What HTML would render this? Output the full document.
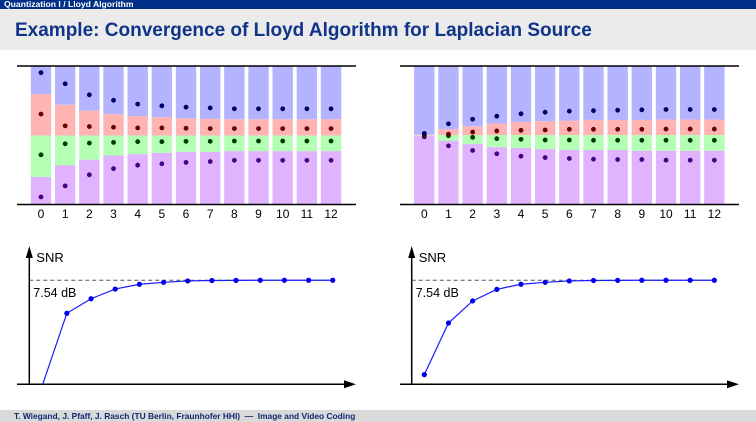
<!DOCTYPE html>
<html><head><meta charset="utf-8"><style>
body{margin:0;width:756px;height:422px;overflow:hidden;background:#fff;font-family:"Liberation Sans",sans-serif;}
#top{position:absolute;left:0;top:0;width:756px;height:9px;background:#002f87;color:#fff;font-size:8.6px;font-weight:bold;line-height:9px;padding-left:4px;box-sizing:border-box;white-space:nowrap}
#band{position:absolute;left:0;top:9px;width:756px;height:41px;background:#ebebeb}
#title{position:absolute;left:15px;top:20px;font-size:19px;font-weight:bold;color:#0f3489;white-space:nowrap}
#foot{position:absolute;left:0;top:410px;width:756px;height:12px;background:#d9d9d9;color:#0f2a70;font-size:8.4px;font-weight:bold;line-height:12px;padding-left:14px;box-sizing:border-box;white-space:nowrap}
svg{position:absolute;left:0;top:0}
</style></head><body>
<div id="top">Quantization I / Lloyd Algorithm</div>
<div id="band"></div>
<div id="title">Example: Convergence of Lloyd Algorithm for Laplacian Source</div>
<div id="foot">T. Wiegand, J. Pfaff, J. Rasch (TU Berlin, Fraunhofer HHI) &nbsp;— &nbsp;Image and Video Coding</div>
<svg id="svg" width="756" height="422"></svg>
<script>
const iterations=[0,1,2,3,4,5,6,7,8,9,10,11,12];
// Left: thresholds (lower, middle, upper) and reconstruction levels, scale -1..1
const leftT1=[-0.60,-0.43,-0.35,-0.29,-0.27,-0.25,-0.236,-0.236,-0.226,-0.226,-0.226,-0.226,-0.226];
const leftT2=[0,0,0,0,0,0,0,0,0,0,0,0,0];
const leftT3=[0.60,0.445,0.36,0.31,0.28,0.265,0.25,0.24,0.236,0.236,0.236,0.236,0.236];
const leftR1=[-0.89,-0.73,-0.57,-0.48,-0.43,-0.41,-0.39,-0.377,-0.36,-0.36,-0.36,-0.36,-0.36];
const leftR2=[-0.28,-0.12,-0.11,-0.10,-0.09,-0.09,-0.085,-0.085,-0.08,-0.08,-0.08,-0.08,-0.08];
const leftR3=[0.31,0.14,0.13,0.12,0.11,0.11,0.105,0.10,0.10,0.10,0.10,0.10,0.10];
const leftR4=[0.91,0.75,0.59,0.51,0.455,0.43,0.41,0.40,0.387,0.387,0.387,0.387,0.387];
// Right
const rightT1=[-0.002,-0.075,-0.124,-0.168,-0.182,-0.197,-0.207,-0.21,-0.21,-0.22,-0.22,-0.22,-0.22];
const rightT2=[0.004,0.007,0.007,0.007,0.007,0.007,0.007,0.007,0.007,0.007,0.007,0.007,0.007];
const rightT3=[0.012,0.09,0.134,0.173,0.197,0.207,0.216,0.226,0.226,0.226,0.231,0.231,0.231];
const rightR1=[-0.02,-0.15,-0.217,-0.265,-0.30,-0.32,-0.333,-0.343,-0.348,-0.348,-0.358,-0.358,-0.358];
const rightR2=[0.0,-0.003,-0.027,-0.046,-0.056,-0.066,-0.066,-0.07,-0.07,-0.07,-0.07,-0.07,-0.07];
const rightR3=[0.01,0.02,0.05,0.066,0.075,0.08,0.09,0.09,0.09,0.09,0.093,0.093,0.093];
const rightR4=[0.03,0.17,0.236,0.28,0.314,0.338,0.353,0.36,0.367,0.372,0.377,0.377,0.377];
// SNR in dB
const leftSNR=[0,5.15,6.2,6.9,7.25,7.39,7.49,7.52,7.53,7.54,7.54,7.54,7.54];
const rightSNR=[0.7,4.44,6.04,6.88,7.25,7.39,7.49,7.52,7.53,7.54,7.54,7.54,7.54];
const snrLimit=7.54;

const NS="http://www.w3.org/2000/svg";
const svg=document.getElementById('svg');
function mk(tag,attrs){const e=document.createElementNS(NS,tag);for(const k in attrs)e.setAttribute(k,attrs[k]);svg.appendChild(e);return e;}
const yTop=66.5,yBot=204.5;
function yV(v){return (yBot+yTop)/2-v*(yBot-yTop)/2;}

function barChart(side,x0,T1,T2,T3,R1,R2,R3,R4,lineX1,lineX2){
  const xC=i=>x0+i*24.17;
  const cols=['#e0b3ff','#b3ffb3','#ffb3b3','#b3b3ff'];
  const dcol=['#4b0082','#003a00','#660000','#000066'];
  iterations.forEach((it,i)=>{
    const b=[yBot,yV(T1[i]),yV(T2[i]),yV(T3[i]),yTop];
    for(let k=0;k<4;k++){
      const r=mk('rect',{x:xC(i)-10.2,y:b[k+1],width:20.4,height:Math.max(0,b[k]-b[k+1]),fill:cols[k]});
      
      
    }
    [R1,R2,R3,R4].forEach((R,k)=>{
      const c=mk('circle',{cx:xC(i),cy:yV(R[i]),r:2.4,fill:dcol[k]});
      
      
    });
    const t=mk('text',{x:xC(i),y:218,'font-size':12,'text-anchor':'middle',fill:'#000'});
    t.textContent=it;
    
    
  });
  const l1=mk('line',{x1:lineX1,x2:lineX2,y1:yTop-0.5,y2:yTop-0.5,stroke:'#000','stroke-width':1.5});
  
  
  const l2=mk('line',{x1:lineX1,x2:lineX2,y1:yBot,y2:yBot,stroke:'#000','stroke-width':1.5});
  
  
}
barChart('left',41,leftT1,leftT2,leftT3,leftR1,leftR2,leftR3,leftR4,17,356);
barChart('right',424.3,rightT1,rightT2,rightT3,rightR1,rightR2,rightR3,rightR4,400,739);

function snrChart(side,axX,x0,xEnd,first,SNR,lx1){
  const y0=384.3,pdb=13.8;
  const xS=i=>x0+i*24.17, yS=v=>y0-v*pdb;
  const ax=mk('line',{x1:lx1,x2:xEnd-8,y1:y0,y2:y0,stroke:'#000','stroke-width':1.5});
  
  
  const ah=mk('polygon',{points:`${xEnd},${y0} ${xEnd-12},${y0-4} ${xEnd-12},${y0+4}`,fill:'#000'});
  
  
  const ay=mk('line',{x1:axX,x2:axX,y1:y0,y2:255,stroke:'#000','stroke-width':1.5});
  
  
  const ayh=mk('polygon',{points:`${axX},${246} ${axX-3.5},${258} ${axX+3.5},${258}`,fill:'#000'});
  
  
  const st=mk('text',{x:axX+7,y:262,'font-size':13,fill:'#000'});
  st.textContent='SNR';
  
  
  const dl=mk('line',{x1:axX,x2:xS(12),y1:yS(snrLimit),y2:yS(snrLimit),stroke:'#555','stroke-width':1,'stroke-dasharray':'4,3'});
  
  
  const lt=mk('text',{x:axX+4,y:297,'font-size':12.5,fill:'#000'});
  lt.textContent=snrLimit.toFixed(2)+' dB';
  
  
  const pl=mk('polyline',{points:SNR.map((v,i)=>xS(i)+','+yS(v)).join(' '),fill:'none',stroke:'#1a1aff','stroke-width':1.2});
  
  
  SNR.forEach((v,i)=>{
    if(i<first)return;
    const c=mk('circle',{cx:xS(i),cy:yS(v),r:2.6,fill:'#0000ee'});
    
    
  });
}
snrChart('left',29.3,42.7,356,1,leftSNR,17);
snrChart('right',411.7,424.3,739,0,rightSNR,400);
</script>
</body></html>
